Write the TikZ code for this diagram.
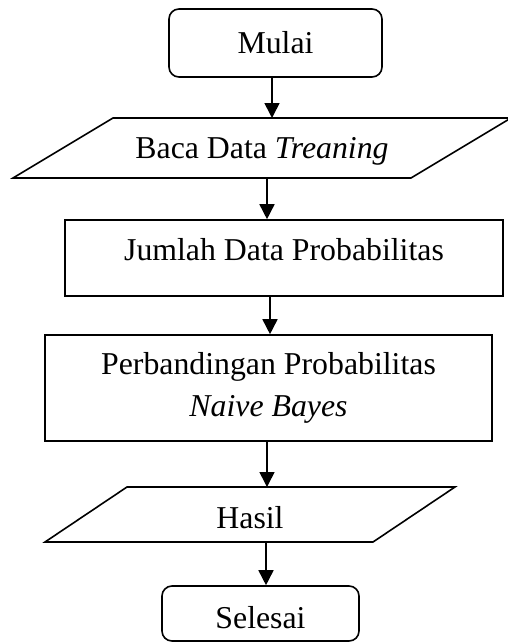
\documentclass[tikz,border=0pt]{standalone}
\usepackage{fontspec}
\setmainfont{Liberation Serif}
\usetikzlibrary{arrows.meta}
\begin{document}
\begin{tikzpicture}[x=1pt,y=-1pt,
  every node/.style={font=\fontsize{31.8}{41.5}\selectfont, inner sep=0pt},
  edge line/.style={line width=1.6pt},
  terminal/.style={draw, line width=1.6pt, rounded corners=10pt},
  process/.style={draw, line width=1.6pt, align=center},
  io/.style={outer sep=0pt},
  flow/.style={line width=1.6pt, -{Triangle[length=15pt,width=15pt]}}
]
\useasboundingbox (0,0) rectangle (507,642);

% start
\node[terminal, minimum width=213pt, minimum height=68pt] (mulai) at (275.5,43) {Mulai};

% input: training data
\node[io, minimum width=298pt, minimum height=60pt, text depth=0pt] (baca) at (262,148) {Baca Data \textit{Treaning}};
\draw[edge line] (baca.north west) -- ([xshift=100pt]baca.north east)
  -- (baca.south east) -- ([xshift=-100pt]baca.south west) -- cycle;

% processing steps
\node[process, minimum width=438pt, minimum height=76pt, text height=22pt, text depth=18pt] (jumlah) at (284,258) {Jumlah Data Probabilitas};
\node[process, minimum width=447pt, minimum height=106pt] (banding) at (268.5,388) {Perbandingan Probabilitas\\\textit{Naive Bayes}};

% output
\node[io, minimum width=246pt, minimum height=55pt, text height=27pt, text depth=0pt] (hasil) at (250,514.5) {Hasil};
\draw[edge line] (hasil.north west) -- ([xshift=82pt]hasil.north east)
  -- (hasil.south east) -- ([xshift=-82pt]hasil.south west) -- cycle;

% end
\node[terminal, minimum width=197pt, minimum height=55pt, text height=29pt, text depth=0pt] (selesai) at (260.5,613.5) {Selesai};

% connector columns
\coordinate (c1) at (272,0);
\coordinate (c2) at (267,0);
\coordinate (c3) at (270,0);
\coordinate (c4) at (267,0);
\coordinate (c5) at (266,0);

\draw[flow] (c1 |- mulai.south) -- (c1 |- baca.north);
\draw[flow] (c2 |- baca.south) -- (c2 |- jumlah.north);
\draw[flow] (c3 |- jumlah.south) -- (c3 |- banding.north);
\draw[flow] (c4 |- banding.south) -- (c4 |- hasil.north);
\draw[flow] (c5 |- hasil.south) -- (c5 |- selesai.north);
\end{tikzpicture}
\end{document}
